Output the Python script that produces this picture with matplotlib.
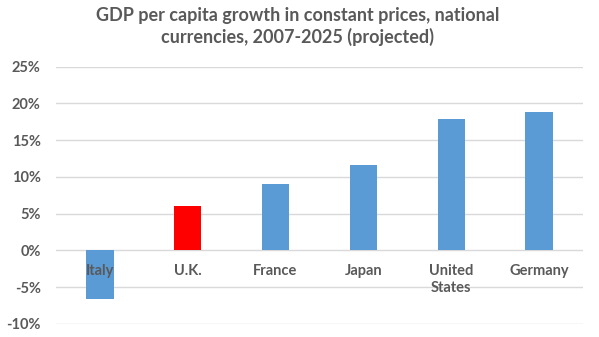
import numpy as np
import matplotlib.pyplot as plt
from matplotlib.ticker import FuncFormatter

countries = ['Italy', 'U.K.', 'France', 'Japan', 'United\nStates', 'Germany']
growth = [-6.6, 6.1, 9.1, 11.6, 17.9, 18.8]
colors = ['#5B9BD5', '#FF0000', '#5B9BD5', '#5B9BD5', '#5B9BD5', '#5B9BD5']
yticks = [-10, -5, 0, 5, 10, 15, 20, 25]

plt.rcParams['font.family'] = ['Lato', 'DejaVu Sans']

fig = plt.figure(figsize=(5.99, 3.37), dpi=100)
ax = fig.add_axes([0.0935, 0.0386, 0.8795, 0.7634])

x = np.arange(len(countries))
ax.bar(x, growth, width=0.31, color=colors, zorder=3)

ax.set_xlim(-0.5, len(countries) - 0.5)
ax.set_ylim(-10, 25)
ax.set_yticks(yticks)
ax.yaxis.set_major_formatter(FuncFormatter(lambda v, p: f'{v:.0f}%'))
ax.grid(axis='y', color='#D9D9D9', linewidth=1)
ax.yaxis.set_zorder(0.5)
ax.xaxis.set_zorder(5)  # category labels sit on top of the Italy bar

for s in ['top', 'right', 'left']:
    ax.spines[s].set_visible(False)
ax.spines['bottom'].set_position(('data', 0))
ax.spines['bottom'].set_visible(False)

ax.set_xticks(x)
ax.set_xticklabels(countries, fontweight='bold', color='#595959', fontsize=10.5,
                   linespacing=1.2, va='top')
ax.tick_params(axis='x', length=0, pad=10)
ax.tick_params(axis='y', length=0, pad=11, labelsize=10.5, labelcolor='#595959')
for lbl in ax.get_yticklabels():
    lbl.set_fontweight('bold')

fig.text(0.497, 0.978, 'GDP per capita growth in constant prices, national\ncurrencies, 2007-2025 (projected)',
         ha='center', va='top', fontsize=13, fontweight='bold', color='#595959',
         linespacing=1.25)

fig.savefig('out.png', dpi=100)
